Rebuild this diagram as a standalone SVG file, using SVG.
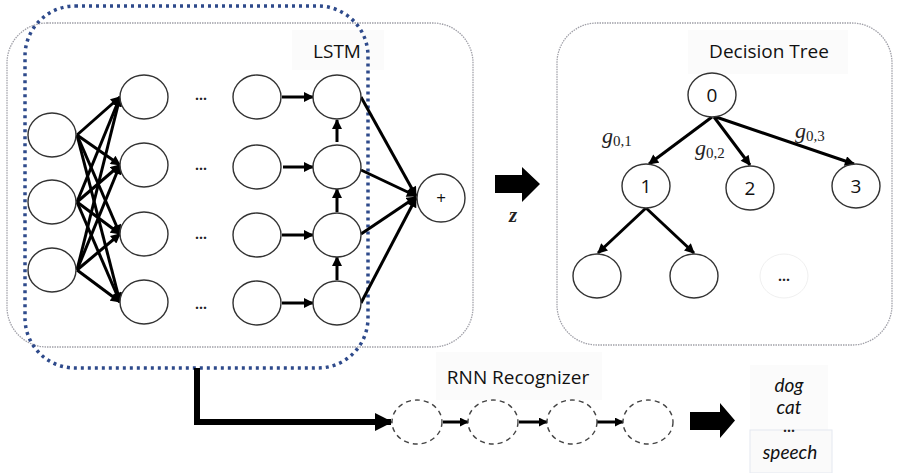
<svg xmlns="http://www.w3.org/2000/svg" width="900" height="473" viewBox="0 0 900 473">
<defs>
<style>
.n{fill:#fff;stroke:#333;stroke-width:1.4}
.dn{fill:#fff;stroke:#444;stroke-width:1.4;stroke-dasharray:5 4}
.e{stroke:#000;stroke-width:3;fill:none;marker-end:url(#ah)}
.box{fill:none;stroke:#a0a0a8;stroke-width:1.3;stroke-dasharray:1.5 1}
.t{font-family:"Open Sans","Liberation Sans",sans-serif;fill:#111}
.o{font-family:Lato,"Open Sans",sans-serif;font-style:italic;font-size:19px;fill:#111}
.dots{font-family:"Open Sans","Liberation Sans",sans-serif;font-size:14px;font-weight:bold;fill:#222}
.m{font-family:"Liberation Serif",serif;font-style:italic;fill:#222}
.lbl{fill:#fbfbfb}
</style>
<marker id="ah" viewBox="0 0 10 10" refX="9" refY="5" markerWidth="11" markerHeight="10" markerUnits="userSpaceOnUse" orient="auto">
<path d="M0,0 L10,5 L0,10 z" fill="#000"/>
</marker>
<marker id="ahs" viewBox="0 0 10 10" refX="9" refY="5" markerWidth="9" markerHeight="9" markerUnits="userSpaceOnUse" orient="auto">
<path d="M0,0 L10,5 L0,10 z" fill="#000"/>
</marker>
<marker id="ahb" viewBox="0 0 10 10" refX="9" refY="5" markerWidth="18" markerHeight="18" markerUnits="userSpaceOnUse" orient="auto">
<path d="M0,0 L10,5 L0,10 z" fill="#000"/>
</marker>
</defs>
<rect width="900" height="473" fill="#fff"/>

<!-- containers -->
<g id="lstm-box">
<rect class="box" x="7" y="23" width="466" height="324" rx="40"/>
<rect class="lbl" x="292" y="30" width="92" height="40"/>
<text class="t" x="337" y="58" font-size="19" text-anchor="middle">LSTM</text>
</g>
<g id="tree-box">
<rect class="box" x="557" y="23" width="335" height="322" rx="40"/>
<rect class="lbl" x="688" y="30" width="160" height="44"/>
<text class="t" x="769" y="58" font-size="19" text-anchor="middle">Decision Tree</text>
</g>
<g id="highlight">
<rect x="25" y="6" width="343" height="362" rx="50" fill="none" stroke="#2e4a8b" stroke-width="3.5" stroke-dasharray="3 4"/>
</g>

<!-- connectors -->
<g id="connectors">
<line class="e" x1="77" y1="135" x2="120" y2="97"/>
<line class="e" x1="77" y1="135" x2="120" y2="165"/>
<line class="e" x1="77" y1="135" x2="120" y2="234"/>
<line class="e" x1="77" y1="135" x2="120" y2="302"/>
<line class="e" x1="77" y1="202" x2="120" y2="97"/>
<line class="e" x1="77" y1="202" x2="120" y2="165"/>
<line class="e" x1="77" y1="202" x2="120" y2="234"/>
<line class="e" x1="77" y1="202" x2="120" y2="302"/>
<line class="e" x1="77" y1="270" x2="120" y2="97"/>
<line class="e" x1="77" y1="270" x2="120" y2="165"/>
<line class="e" x1="77" y1="270" x2="120" y2="234"/>
<line class="e" x1="77" y1="270" x2="120" y2="302"/>
<line class="e" x1="282" y1="97" x2="313" y2="97"/>
<line class="e" x1="283" y1="167" x2="313" y2="167"/>
<line class="e" x1="282" y1="235" x2="313" y2="235"/>
<line class="e" x1="282" y1="303" x2="313" y2="303"/>
<line class="e" x1="337" y1="142" x2="337" y2="120"/>
<line class="e" x1="337" y1="212" x2="337" y2="189"/>
<line class="e" x1="337" y1="280" x2="337" y2="257"/>
<line class="e" x1="361" y1="97" x2="416" y2="196"/>
<line class="e" x1="361" y1="170" x2="416" y2="196"/>
<line class="e" x1="361" y1="234" x2="416" y2="197"/>
<line class="e" x1="361" y1="303" x2="416" y2="198"/>
<line class="e" x1="712" y1="117" x2="649" y2="164"/>
<line class="e" x1="714" y1="117" x2="750" y2="165"/>
<line class="e" x1="716" y1="117" x2="854" y2="164"/>
<line class="e" x1="646" y1="208" x2="598" y2="253"/>
<line class="e" x1="646" y1="208" x2="694" y2="253"/>
<path d="M197,368 V422 H391" fill="none" stroke="#000" stroke-width="6" marker-end="url(#ahb)"/>
<line x1="443" y1="422" x2="468" y2="422" stroke="#000" stroke-width="3" marker-end="url(#ahs)"/>
<line x1="519" y1="422" x2="547" y2="422" stroke="#000" stroke-width="3" marker-end="url(#ahs)"/>
<line x1="597" y1="422" x2="623" y2="422" stroke="#000" stroke-width="3" marker-end="url(#ahs)"/>
<path d="M495,175 H522 V167 L540,184 L522,202 V193 H495 Z" fill="#000"/>
<path d="M690,412 H720 V403 L735,420.5 L720,438 V430 H690 Z" fill="#000"/>
</g>

<g id="input-nodes">
<ellipse class="n" cx="52" cy="135" rx="24" ry="22"/>
<ellipse class="n" cx="52" cy="202" rx="24" ry="22"/>
<ellipse class="n" cx="52" cy="270" rx="24" ry="22"/>
</g>
<g id="layer2">
<ellipse class="n" cx="144" cy="97" rx="24" ry="22"/>
<ellipse class="n" cx="144" cy="165" rx="24" ry="22"/>
<ellipse class="n" cx="144" cy="234" rx="24" ry="22"/>
<ellipse class="n" cx="144" cy="302" rx="24" ry="22"/>
</g>
<g id="ellipsis">
<text class="dots" x="201" y="104" text-anchor="middle">···</text>
<text class="dots" x="201" y="174" text-anchor="middle">···</text>
<text class="dots" x="201" y="243" text-anchor="middle">···</text>
<text class="dots" x="201" y="313" text-anchor="middle">···</text>
</g>
<g id="layer3">
<ellipse class="n" cx="257" cy="97" rx="24" ry="22"/>
<ellipse class="n" cx="257" cy="167" rx="24" ry="22"/>
<ellipse class="n" cx="257" cy="235" rx="24" ry="22"/>
<ellipse class="n" cx="257" cy="303" rx="24" ry="22"/>
</g>
<g id="layer4">
<ellipse class="n" cx="337" cy="97" rx="24" ry="22"/>
<ellipse class="n" cx="337" cy="167" rx="24" ry="22"/>
<ellipse class="n" cx="337" cy="235" rx="24" ry="22"/>
<ellipse class="n" cx="337" cy="303" rx="24" ry="22"/>
</g>
<g id="plus">
<ellipse class="n" cx="441" cy="198" rx="24" ry="24"/>
<text class="t" x="441" y="204" font-size="17" text-anchor="middle">+</text>
</g>
<g id="z-label">
<text class="m" x="513" y="222" font-size="21" font-weight="bold" text-anchor="middle">z</text>
</g>

<g id="t0"><ellipse class="n" cx="712" cy="95" rx="24" ry="22"/><text class="t" x="712" y="102" font-size="19" text-anchor="middle">0</text></g>
<g id="t1"><ellipse class="n" cx="646" cy="186" rx="24" ry="22"/><text class="t" x="646" y="193" font-size="19" text-anchor="middle">1</text></g>
<g id="t2"><ellipse class="n" cx="750" cy="188" rx="24" ry="22"/><text class="t" x="750" y="195" font-size="19" text-anchor="middle">2</text></g>
<g id="t3"><ellipse class="n" cx="856" cy="186" rx="24" ry="22"/><text class="t" x="856" y="193" font-size="19" text-anchor="middle">3</text></g>
<g id="t11"><ellipse class="n" cx="597" cy="276" rx="24" ry="22"/></g>
<g id="t12"><ellipse class="n" cx="694" cy="276" rx="24" ry="22"/></g>
<g id="tmore"><ellipse cx="784" cy="276" rx="24" ry="22" fill="#fff" stroke="#f0f0f0" stroke-width="1"/><text class="dots" x="784" y="285" text-anchor="middle">···</text></g>
<g id="edge-labels">
<text class="m" x="602" y="143" font-size="22">g<tspan font-size="15" font-style="normal" dy="3">0,1</tspan></text>
<text class="m" x="695" y="155" font-size="22">g<tspan font-size="15" font-style="normal" dy="3">0,2</tspan></text>
<text class="m" x="795" y="138" font-size="22">g<tspan font-size="15" font-style="normal" dy="3">0,3</tspan></text>
</g>

<g id="rnn-label">
<rect class="lbl" x="436" y="352" width="166" height="48"/>
<text class="t" x="518" y="384" font-size="19" text-anchor="middle">RNN Recognizer</text>
</g>
<g id="r1"><ellipse class="dn" cx="417" cy="422" rx="25" ry="22"/></g>
<g id="r2"><ellipse class="dn" cx="493" cy="422" rx="25" ry="22"/></g>
<g id="r3"><ellipse class="dn" cx="572" cy="422" rx="25" ry="22"/></g>
<g id="r4"><ellipse class="dn" cx="648" cy="422" rx="25" ry="22"/></g>

<g id="outputs">
<rect class="lbl" x="750" y="365" width="78" height="65"/>
<rect x="750" y="430" width="82" height="43" fill="#fafafa" stroke="#e4e8f0" stroke-width="1"/>
<text class="o" x="789" y="392" text-anchor="middle">dog</text>
<text class="o" x="789" y="414" text-anchor="middle">cat</text>
<text class="dots" x="789" y="436" font-size="12" text-anchor="middle">···</text>
<text class="o" x="790" y="459" text-anchor="middle">speech</text>
</g>
</svg>
